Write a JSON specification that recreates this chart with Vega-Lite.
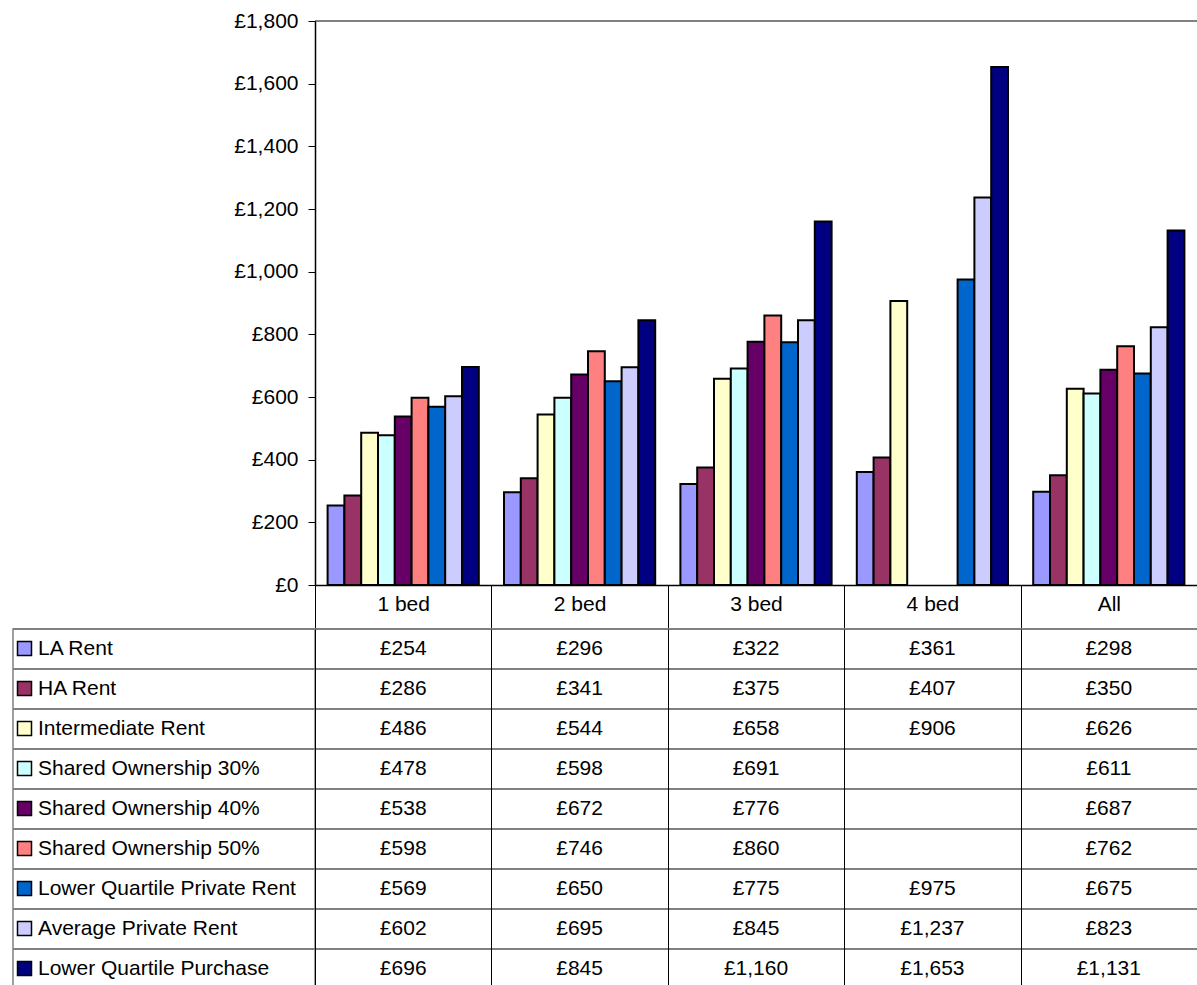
{
  "$schema": "https://vega.github.io/schema/vega-lite/v6.json",
  "background": "white",
  "autosize": {"type": "pad", "resize": false},
  "padding": {"left": 11, "top": 10, "right": 0, "bottom": 0},
  "config": {
    "font": "Liberation Sans",
    "locale": {"number": {"decimal": ".", "thousands": ",", "grouping": [3], "currency": ["£", ""]}},
    "view": {"stroke": null}
  },
  "datasets": {
    "rents": [
      {"category": "1 bed", "series": "LA Rent", "value": 254},
      {"category": "1 bed", "series": "HA Rent", "value": 286},
      {"category": "1 bed", "series": "Intermediate Rent", "value": 486},
      {"category": "1 bed", "series": "Shared Ownership 30%", "value": 478},
      {"category": "1 bed", "series": "Shared Ownership 40%", "value": 538},
      {"category": "1 bed", "series": "Shared Ownership 50%", "value": 598},
      {"category": "1 bed", "series": "Lower Quartile Private Rent", "value": 569},
      {"category": "1 bed", "series": "Average Private Rent", "value": 602},
      {"category": "1 bed", "series": "Lower Quartile Purchase", "value": 696},
      {"category": "2 bed", "series": "LA Rent", "value": 296},
      {"category": "2 bed", "series": "HA Rent", "value": 341},
      {"category": "2 bed", "series": "Intermediate Rent", "value": 544},
      {"category": "2 bed", "series": "Shared Ownership 30%", "value": 598},
      {"category": "2 bed", "series": "Shared Ownership 40%", "value": 672},
      {"category": "2 bed", "series": "Shared Ownership 50%", "value": 746},
      {"category": "2 bed", "series": "Lower Quartile Private Rent", "value": 650},
      {"category": "2 bed", "series": "Average Private Rent", "value": 695},
      {"category": "2 bed", "series": "Lower Quartile Purchase", "value": 845},
      {"category": "3 bed", "series": "LA Rent", "value": 322},
      {"category": "3 bed", "series": "HA Rent", "value": 375},
      {"category": "3 bed", "series": "Intermediate Rent", "value": 658},
      {"category": "3 bed", "series": "Shared Ownership 30%", "value": 691},
      {"category": "3 bed", "series": "Shared Ownership 40%", "value": 776},
      {"category": "3 bed", "series": "Shared Ownership 50%", "value": 860},
      {"category": "3 bed", "series": "Lower Quartile Private Rent", "value": 775},
      {"category": "3 bed", "series": "Average Private Rent", "value": 845},
      {"category": "3 bed", "series": "Lower Quartile Purchase", "value": 1160},
      {"category": "4 bed", "series": "LA Rent", "value": 361},
      {"category": "4 bed", "series": "HA Rent", "value": 407},
      {"category": "4 bed", "series": "Intermediate Rent", "value": 906},
      {"category": "4 bed", "series": "Shared Ownership 30%", "value": null},
      {"category": "4 bed", "series": "Shared Ownership 40%", "value": null},
      {"category": "4 bed", "series": "Shared Ownership 50%", "value": null},
      {"category": "4 bed", "series": "Lower Quartile Private Rent", "value": 975},
      {"category": "4 bed", "series": "Average Private Rent", "value": 1237},
      {"category": "4 bed", "series": "Lower Quartile Purchase", "value": 1653},
      {"category": "All", "series": "LA Rent", "value": 298},
      {"category": "All", "series": "HA Rent", "value": 350},
      {"category": "All", "series": "Intermediate Rent", "value": 626},
      {"category": "All", "series": "Shared Ownership 30%", "value": 611},
      {"category": "All", "series": "Shared Ownership 40%", "value": 687},
      {"category": "All", "series": "Shared Ownership 50%", "value": 762},
      {"category": "All", "series": "Lower Quartile Private Rent", "value": 675},
      {"category": "All", "series": "Average Private Rent", "value": 823},
      {"category": "All", "series": "Lower Quartile Purchase", "value": 1131}
    ]
  },
  "data": {"name": "rents"},
  "bounds": "flush",
  "columns": 2,
  "spacing": {"row": 44, "column": 0},
  "concat": [
    {
      "width": 302,
      "height": 564,
      "data": {"values": []},
      "mark": "point",
      "encoding": {}
    },
    {
      "width": 882,
      "height": 564,
      "layer": [
        {
          "mark": {"type": "bar", "stroke": "black", "strokeWidth": 2},
          "encoding": {
            "x": {
              "field": "category",
              "type": "nominal",
              "sort": ["1 bed", "2 bed", "3 bed", "4 bed", "All"],
              "scale": {"paddingInner": 0, "paddingOuter": 0},
              "axis": {
                "title": null,
                "labelAngle": 0,
                "labelFontSize": 21,
                "labelColor": "black",
                "labelBaseline": "middle",
                "labelPadding": -25,
                "tickBand": "extent",
                "tickSize": 44,
                "tickColor": "black",
                "tickWidth": 1,
                "domainColor": "black",
                "domainWidth": 1.5,
                "zindex": 1
              }
            },
            "xOffset": {
              "field": "series",
              "type": "nominal",
              "sort": ["LA Rent", "HA Rent", "Intermediate Rent", "Shared Ownership 30%", "Shared Ownership 40%", "Shared Ownership 50%", "Lower Quartile Private Rent", "Average Private Rent", "Lower Quartile Purchase"],
              "scale": {"paddingInner": 0, "paddingOuter": 0.75}
            },
            "y": {
              "field": "value",
              "type": "quantitative",
              "scale": {"domain": [0, 1800], "nice": false},
              "axis": {
                "title": null,
                "values": [0, 200, 400, 600, 800, 1000, 1200, 1400, 1600, 1800],
                "format": "$,.0f",
                "labelFontSize": 21,
                "labelColor": "black",
                "labelPadding": 10,
                "tickSize": 7,
                "tickColor": "black",
                "domainColor": "black",
                "domainWidth": 1.5,
                "grid": false,
                "zindex": 1
              }
            },
            "color": {
              "field": "series",
              "type": "nominal",
              "sort": ["LA Rent", "HA Rent", "Intermediate Rent", "Shared Ownership 30%", "Shared Ownership 40%", "Shared Ownership 50%", "Lower Quartile Private Rent", "Average Private Rent", "Lower Quartile Purchase"],
              "scale": {
                "domain": ["LA Rent", "HA Rent", "Intermediate Rent", "Shared Ownership 30%", "Shared Ownership 40%", "Shared Ownership 50%", "Lower Quartile Private Rent", "Average Private Rent", "Lower Quartile Purchase"],
                "range": ["#9999FF", "#993366", "#FFFFCC", "#CCFFFF", "#660066", "#FF8080", "#0066CC", "#CCCCFF", "#000080"]
              },
              "legend": {
                "orient": "none",
                "legendX": 1,
                "legendY": 617,
                "title": null,
                "padding": 0,
                "symbolType": "square",
                "symbolSize": 196,
                "symbolStrokeColor": "black",
                "symbolStrokeWidth": 1.5,
                "symbolOpacity": 1,
                "labelFontSize": 21,
                "labelColor": "black",
                "labelOffset": 3,
                "labelLimit": 400,
                "rowPadding": 18
              }
            }
          }
        },
        {
          "mark": {"type": "rule", "color": "#808080", "strokeWidth": 2},
          "encoding": {"y": {"datum": 1800, "type": "quantitative"}}
        }
      ]
    },
    {
      "width": 302,
      "height": 360,
      "view": {"stroke": "#808080", "strokeWidth": 1.5},
      "mark": {"type": "rule", "color": "#808080", "strokeWidth": 1.5},
      "encoding": {
        "y": {
          "field": "series",
          "type": "nominal",
          "sort": ["LA Rent", "HA Rent", "Intermediate Rent", "Shared Ownership 30%", "Shared Ownership 40%", "Shared Ownership 50%", "Lower Quartile Private Rent", "Average Private Rent", "Lower Quartile Purchase"],
          "bandPosition": 0,
          "scale": {"type": "band", "paddingInner": 0, "paddingOuter": 0},
          "axis": null
        }
      }
    },
    {
      "width": 882,
      "height": 360,
      "transform": [{"filter": "isValid(datum.value)"}],
      "layer": [
        {
          "mark": {"type": "rule", "color": "#808080", "strokeWidth": 1.5},
          "encoding": {
            "y": {
              "field": "series",
              "type": "nominal",
              "sort": ["LA Rent", "HA Rent", "Intermediate Rent", "Shared Ownership 30%", "Shared Ownership 40%", "Shared Ownership 50%", "Lower Quartile Private Rent", "Average Private Rent", "Lower Quartile Purchase"],
              "bandPosition": 0,
              "scale": {"type": "band", "paddingInner": 0, "paddingOuter": 0},
              "axis": null
            }
          }
        },
        {
          "mark": {"type": "text", "fontSize": 21, "color": "black", "baseline": "middle", "align": "center"},
          "encoding": {
            "x": {
              "field": "category",
              "type": "nominal",
              "sort": ["1 bed", "2 bed", "3 bed", "4 bed", "All"],
              "bandPosition": 0.5,
              "scale": {"type": "band", "paddingInner": 0, "paddingOuter": 0},
              "axis": {
                "title": null,
                "labels": false,
                "ticks": false,
                "domain": false,
                "grid": true,
                "tickBand": "extent",
                "gridColor": "black",
                "gridWidth": 1,
                "gridOpacity": 1,
                "zindex": 1
              }
            },
            "y": {
              "field": "series",
              "type": "nominal",
              "sort": ["LA Rent", "HA Rent", "Intermediate Rent", "Shared Ownership 30%", "Shared Ownership 40%", "Shared Ownership 50%", "Lower Quartile Private Rent", "Average Private Rent", "Lower Quartile Purchase"],
              "bandPosition": 0.5,
              "axis": null
            },
            "text": {"field": "value", "type": "quantitative", "format": "$,.0f"}
          }
        }
      ]
    }
  ]
}
